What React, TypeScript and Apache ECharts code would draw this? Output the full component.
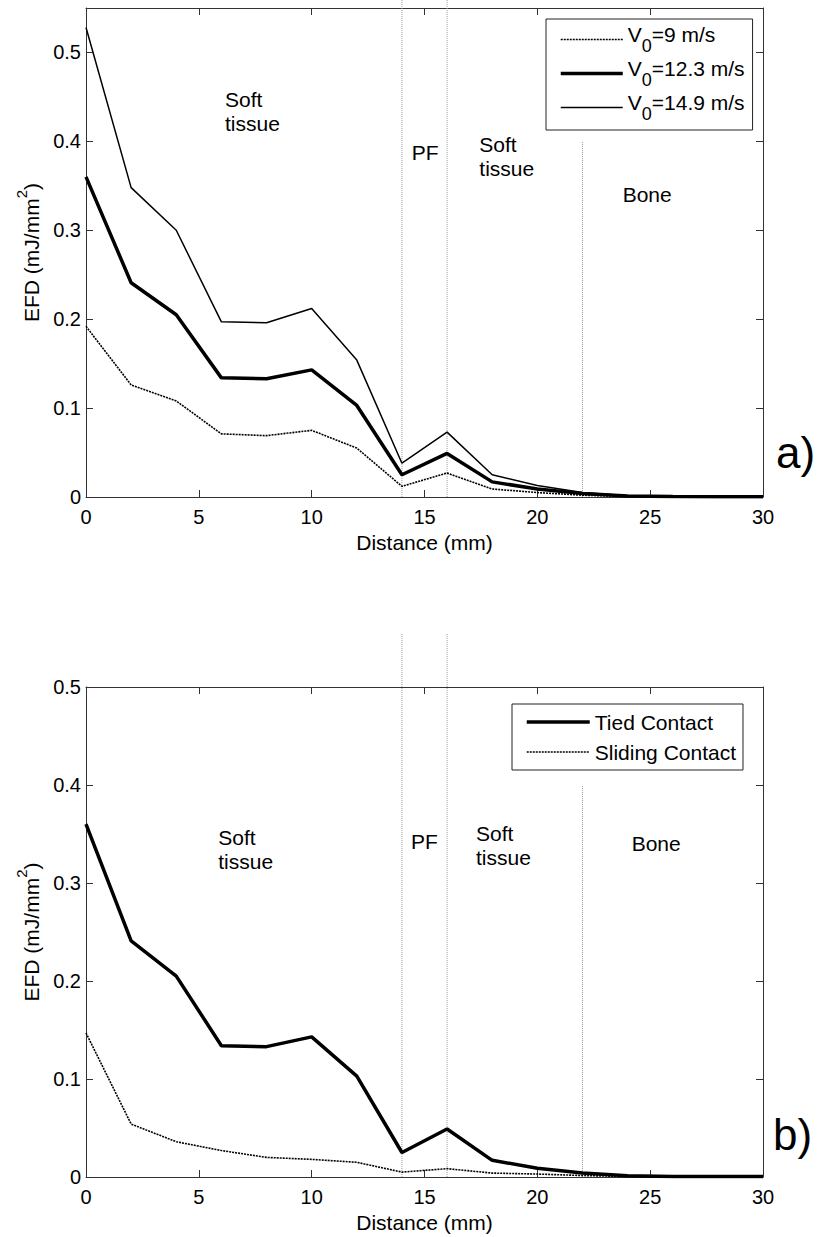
import React, { useEffect, useRef } from "react";
import * as echarts from "echarts";

// ---- data ----
const distance = [0, 2, 4, 6, 8, 10, 12, 14, 16, 18, 20, 22, 24, 26, 28, 30];
const efdV9 = [0.192, 0.126, 0.108, 0.071, 0.069, 0.075, 0.055, 0.012, 0.027, 0.009, 0.005, 0.002, 0.0006, 0.0003, 0.0002, 0.0002];
const efdV12 = [0.36, 0.241, 0.205, 0.134, 0.133, 0.143, 0.103, 0.025, 0.049, 0.017, 0.009, 0.004, 0.0012, 0.0006, 0.0004, 0.0004];
const efdV14 = [0.528, 0.348, 0.3, 0.197, 0.196, 0.212, 0.154, 0.038, 0.073, 0.025, 0.013, 0.005, 0.0015, 0.001, 0.0008, 0.0008];
const efdTied = [0.36, 0.241, 0.205, 0.134, 0.133, 0.143, 0.103, 0.025, 0.049, 0.017, 0.009, 0.004, 0.0012, 0.0006, 0.0004, 0.0004];
const efdSliding = [0.147, 0.054, 0.036, 0.027, 0.02, 0.018, 0.015, 0.005, 0.0085, 0.004, 0.003, 0.0015, 0.0005, 0.0003, 0.0002, 0.0002];

const namesA = ["V0=9 m/s", "V0=12.3 m/s", "V0=14.9 m/s"];
const namesB = ["Tied Contact", "Sliding Contact"];

const dividerX = [14, 16, 22];
const dividerTopA = [0.6, 0.6, 0.4];
const dividerTopB = [0.555, 0.555, 0.4];

const notesText = ["Soft\ntissue", "PF", "Soft\ntissue", "Bone"];
const notesAX = [6.16, 14.43, 17.43, 23.78];
const notesAY = [0.4337, 0.388, 0.383, 0.3405];
const notesBX = [5.86, 14.4, 17.28, 24.18];
const notesBY = [0.3344, 0.342, 0.3385, 0.3405];

const yMaxA = 0.55;
const yMaxB = 0.5;

const FONT = "'Liberation Sans', Arial, Helvetica, sans-serif";
const AX = "#333";

function pairs(ys: number[]) {
  return distance.map((d, i) => [d, ys[i]]);
}

function axesFor(g: number, yMax: number, showMax: boolean) {
  const xs = [
    {
      gridIndex: g,
      type: "value",
      min: 0,
      max: 30,
      interval: 5,
      position: "bottom",
      axisLine: { show: true, onZero: false, lineStyle: { color: AX, width: 1 } },
      axisTick: { show: true, inside: true, length: 7, lineStyle: { color: AX } },
      axisLabel: { color: "#000", fontSize: 20, fontFamily: FONT, margin: 10 },
      splitLine: { show: false },
      name: "Distance (mm)",
      nameLocation: "middle",
      nameGap: 35,
      nameTextStyle: { color: "#000", fontSize: 21, fontFamily: FONT },
    },
    {
      gridIndex: g,
      type: "value",
      min: 0,
      max: 30,
      interval: 5,
      position: "top",
      axisLine: { show: true, onZero: false, lineStyle: { color: AX, width: 1 } },
      axisTick: { show: true, inside: true, length: 7, lineStyle: { color: AX } },
      axisLabel: { show: false },
      splitLine: { show: false },
    },
  ];
  const ys = [
    {
      gridIndex: g,
      type: "value",
      min: 0,
      max: yMax,
      interval: 0.1,
      position: "left",
      axisLine: { show: true, onZero: false, lineStyle: { color: AX, width: 1 } },
      axisTick: { show: true, inside: true, length: 7, lineStyle: { color: AX } },
      axisLabel: { color: "#000", fontSize: 20, fontFamily: FONT, margin: 5, showMaxLabel: showMax },
      splitLine: { show: false },
      name: "{n|EFD (mJ/mm}{s|2}{n|)}",
      nameLocation: "middle",
      nameRotate: 90,
      nameGap: 42,
      nameTextStyle: {
        color: "#000",
        fontFamily: FONT,
        rich: {
          n: { fontSize: 21, padding: [7, 0, 0, 0], verticalAlign: "bottom", fontFamily: FONT, color: "#000" },
          s: { fontSize: 15, verticalAlign: "top", fontFamily: FONT, color: "#000" },
        },
      },
    },
    {
      gridIndex: g,
      type: "value",
      min: 0,
      max: yMax,
      interval: 0.1,
      position: "right",
      axisLine: { show: true, onZero: false, lineStyle: { color: AX, width: 1 } },
      axisTick: { show: true, inside: true, length: 7, lineStyle: { color: AX } },
      axisLabel: { show: false },
      splitLine: { show: false },
    },
  ];
  return { xs, ys };
}

function dividers(g: number, tops: number[]) {
  return dividerX.map((x, i) => ({
    type: "line",
    xAxisIndex: g * 2,
    yAxisIndex: g * 2,
    data: [
      [x, 0],
      [x, tops[i]],
    ],
    symbol: "none",
    silent: true,
    clip: false,
    z: 1,
    lineStyle: { color: "#9a9a9a", width: 1, type: [1, 1] },
  }));
}

function notes(g: number, xs: number[], ys: number[]) {
  return {
    type: "scatter",
    xAxisIndex: g * 2,
    yAxisIndex: g * 2,
    silent: true,
    clip: false,
    symbolSize: 0,
    itemStyle: { color: "#000", opacity: 1 },
    data: notesText.map((t, i) => ({ name: t, value: [xs[i], ys[i]] })),
    label: {
      show: true,
      position: "right",
      distance: 0,
      formatter: "{b}",
      color: "#000",
      opacity: 1,
      fontSize: 21,
      lineHeight: 24,
      fontFamily: FONT,
      align: "left",
    },
  };
}

function dataLine(name: string, g: number, ys: number[], width: number, dotted: boolean) {
  return {
    name,
    type: "line",
    xAxisIndex: g * 2,
    yAxisIndex: g * 2,
    data: pairs(ys),
    symbol: "none",
    showSymbol: false,
    z: 3,
    itemStyle: { color: "#000" },
    lineStyle: { color: "#000", width, type: dotted ? [2, 1] : "solid" },
  };
}

export default function App() {
  const ref = useRef<HTMLDivElement>(null);
  useEffect(() => {
    document.body.style.margin = "0";
    if (!ref.current) return;
    const chart = echarts.init(ref.current, undefined, { renderer: "svg" });
    const a = axesFor(0, yMaxA, false);
    const b = axesFor(1, yMaxB, true);
    const option: any = {
      animation: false,
      backgroundColor: "#fff",
      textStyle: { fontFamily: FONT },
      grid: [
        { left: 86, top: 8, width: 677, height: 489, containLabel: false },
        { left: 86, top: 687, width: 677, height: 490, containLabel: false },
      ],
      xAxis: [...a.xs, ...b.xs],
      yAxis: [...a.ys, ...b.ys],
      legend: [
        {
          data: namesA,
          orient: "vertical",
          left: 546,
          top: 19,
          itemWidth: 62,
          itemHeight: 14,
          itemGap: 3,
          padding: [5, 8, 7, 13],
          borderColor: "#222",
          borderWidth: 1,
          backgroundColor: "#fff",
          selectedMode: false,
          itemStyle: { opacity: 0 },
          lineStyle: { width: "inherit" },
          formatter: (name: string) => `{n|V}{s|0}{n|${name.slice(2)}}`,
          textStyle: {
            color: "#000",
            fontFamily: FONT,
            rich: {
              n: { fontSize: 21, lineHeight: 22, verticalAlign: "top", fontFamily: FONT, color: "#000" },
              s: { fontSize: 18, padding: [13, 0, 0, 0], verticalAlign: "top", fontFamily: FONT, color: "#000" },
            },
          },
        },
        {
          data: namesB,
          orient: "vertical",
          left: 512,
          top: 704,
          itemWidth: 63,
          itemHeight: 14,
          itemGap: 8,
          padding: [7, 7, 7, 13],
          borderColor: "#222",
          borderWidth: 1,
          backgroundColor: "#fff",
          selectedMode: false,
          itemStyle: { opacity: 0 },
          lineStyle: { width: "inherit" },
          textStyle: { color: "#000", fontFamily: FONT, fontSize: 21, lineHeight: 22 },
        },
      ],
      series: [
        ...dividers(0, dividerTopA),
        ...dividers(1, dividerTopB),
        dataLine(namesA[0], 0, efdV9, 1.6, true),
        dataLine(namesA[1], 0, efdV12, 3.5, false),
        dataLine(namesA[2], 0, efdV14, 1.5, false),
        dataLine(namesB[0], 1, efdTied, 3.5, false),
        dataLine(namesB[1], 1, efdSliding, 1.6, true),
        notes(0, notesAX, notesAY),
        notes(1, notesBX, notesBY),
      ],
      graphic: [
        { type: "text", left: 776, top: 430, style: { text: "a)", fontSize: 44, fontFamily: FONT, fill: "#000" } },
        { type: "text", left: 773, top: 1112, style: { text: "b)", fontSize: 44, fontFamily: FONT, fill: "#000" } },
      ],
    };
    chart.setOption(option);
    return () => chart.dispose();
  }, []);
  return <div ref={ref} style={{ width: 822, height: 1237 }} />;
}
